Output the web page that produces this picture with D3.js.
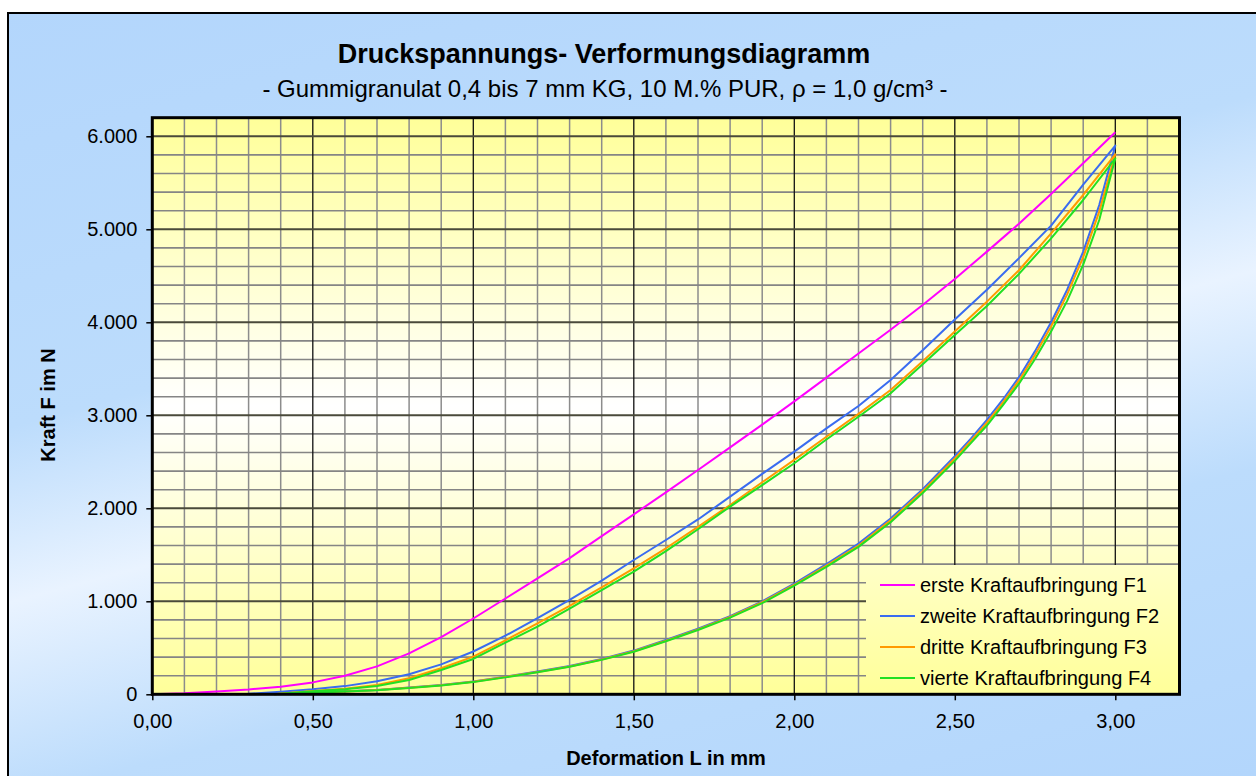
<!DOCTYPE html>
<html><head><meta charset="utf-8">
<script src="https://cdn.jsdelivr.net/npm/d3@7"></script>
<style>
body{margin:0;background:#fff}
svg{display:block}
text{font-family:Arial,"Liberation Sans",sans-serif;fill:#000}
</style>
</head><body>
<svg id="chart" width="1256" height="776"></svg>
<script>
// ---------- data ----------
const titleText = "Druckspannungs- Verformungsdiagramm";
const subtitleText = "- Gummigranulat 0,4 bis 7 mm KG, 10 M.% PUR, \u03C1 = 1,0 g/cm\u00B3 -";
const xAxisTitle = "Deformation L in mm";
const yAxisTitle = "Kraft F im N";
const xTickValues = [0, 0.5, 1.0, 1.5, 2.0, 2.5, 3.0];
const yTickValues = [0, 1000, 2000, 3000, 4000, 5000, 6000];
const seriesNames = ["erste Kraftaufbringung F1", "zweite Kraftaufbringung F2",
                     "dritte Kraftaufbringung F3", "vierte Kraftaufbringung F4"];

// [Deformation mm, Kraft N]
const f1Load = [[0,0],[0.1,10],[0.2,30],[0.3,52],[0.4,82],[0.5,128],[0.6,200],[0.7,300],[0.8,440],[0.9,615],
  [1.0,815],[1.1,1030],[1.2,1247],[1.3,1465],[1.4,1700],[1.5,1935],[1.6,2172],[1.7,2412],[1.8,2655],[1.9,2900],
  [2.0,3150],[2.1,3405],[2.2,3665],[2.3,3920],[2.4,4186],[2.5,4466],[2.6,4760],[2.7,5060],[2.8,5380],[2.9,5710],[3.0,6043]];

const f2Load = [[0.26,0],[0.3,5],[0.4,28],[0.5,54],[0.6,88],[0.7,140],[0.8,215],[0.9,322],[1.0,460],[1.1,630],
  [1.2,820],[1.3,1015],[1.4,1222],[1.5,1444],[1.6,1659],[1.7,1880],[1.8,2125],[1.9,2370],[2.0,2609],[2.1,2860],
  [2.2,3100],[2.3,3380],[2.4,3700],[2.5,4030],[2.6,4350],[2.7,4690],[2.8,5040],[2.9,5480],[3.0,5900]];
const f2Unload = [[3.0,5900],[2.95,5260],[2.9,4760],[2.85,4350],[2.8,4000],[2.75,3690],[2.7,3410],[2.65,3170],
  [2.6,2950],[2.55,2750],[2.5,2560],[2.4,2205],[2.3,1890],[2.2,1620],[2.1,1400],[2.0,1190],[1.9,1000],[1.8,840],
  [1.7,705],[1.6,584],[1.5,470],[1.4,380],[1.3,305],[1.2,245],[1.1,190],[1.0,138],[0.9,100],[0.8,72],[0.7,47],
  [0.6,32],[0.5,21],[0.4,8],[0.3,0]];

const f3Load = [[0.38,0],[0.4,8],[0.5,36],[0.6,60],[0.7,100],[0.8,172],[0.9,280],[1.0,405],[1.1,580],[1.2,763],
  [1.3,950],[1.4,1150],[1.5,1355],[1.6,1570],[1.7,1800],[1.8,2036],[1.9,2280],[2.0,2520],[2.1,2770],[2.2,3015],
  [2.3,3272],[2.4,3580],[2.5,3900],[2.6,4222],[2.7,4560],[2.8,4957],[2.9,5369],[3.0,5806]];
const f3Unload = [[3.0,5806],[2.95,5190],[2.9,4700],[2.85,4300],[2.8,3955],[2.75,3650],[2.7,3375],[2.65,3140],
  [2.6,2920],[2.55,2725],[2.5,2535],[2.4,2185],[2.3,1870],[2.2,1600],[2.1,1385],[2.0,1178],[1.9,990],[1.8,832],
  [1.7,698],[1.6,576],[1.5,463],[1.4,375],[1.3,300],[1.2,240],[1.1,186],[1.0,134],[0.9,97],[0.8,70],[0.7,45],
  [0.6,30],[0.5,19],[0.4,6],[0.38,0]];

const f4Load = [[0.38,0],[0.4,6],[0.5,33],[0.6,55],[0.7,90],[0.8,154],[0.9,262],[1.0,380],[1.1,555],[1.2,728],
  [1.3,920],[1.4,1120],[1.5,1319],[1.6,1540],[1.7,1775],[1.8,2018],[1.9,2250],[2.0,2484],[2.1,2740],[2.2,2985],
  [2.3,3237],[2.4,3550],[2.5,3864],[2.6,4175],[2.7,4520],[2.8,4903],[2.9,5315],[3.0,5763]];
const f4Unload = [[3.0,5763],[2.95,5100],[2.9,4620],[2.85,4230],[2.8,3900],[2.75,3605],[2.7,3340],[2.65,3110],
  [2.6,2890],[2.55,2700],[2.5,2510],[2.4,2165],[2.3,1850],[2.2,1585],[2.1,1370],[2.0,1168],[1.9,980],[1.8,825],
  [1.7,692],[1.6,570],[1.5,458],[1.4,370],[1.3,296],[1.2,236],[1.1,182],[1.0,131],[0.9,95],[0.8,68],[0.7,44],
  [0.6,29],[0.5,18],[0.4,5],[0.38,0]];

const seriesData = [f1Load, f2Load.concat(f2Unload), f3Load.concat(f3Unload), f4Load.concat(f4Unload)];
const seriesColors = ["#ff00ff", "#3a6cf0", "#ff9a00", "#22e022"];

// ---------- layout ----------
const W = 1256, H = 776;
const plot = {left: 152.3, right: 1179.5, top: 117.7, bottom: 694.3};
const svg = d3.select("#chart");
const defs = svg.append("defs");

const bg = defs.append("linearGradient").attr("id", "bgGrad")
  .attr("gradientUnits", "userSpaceOnUse")
  .attr("x1", 513).attr("y1", -124).attr("x2", 786).attr("y2", 900);
bg.append("stop").attr("offset", 0).attr("stop-color", "#b3d6fc");
bg.append("stop").attr("offset", 0.38).attr("stop-color", "#bcdcfc");
bg.append("stop").attr("offset", 0.54).attr("stop-color", "#e9f3ff");
bg.append("stop").attr("offset", 0.72).attr("stop-color", "#bcdcfc");
bg.append("stop").attr("offset", 1).attr("stop-color", "#b3d6fc");

const pg = defs.append("linearGradient").attr("id", "plotGrad")
  .attr("gradientUnits", "userSpaceOnUse")
  .attr("x1", 0).attr("y1", plot.top).attr("x2", 0).attr("y2", plot.bottom);
pg.append("stop").attr("offset", 0).attr("stop-color", "#ffff99");
pg.append("stop").attr("offset", 0.5).attr("stop-color", "#ffffff");
pg.append("stop").attr("offset", 1).attr("stop-color", "#ffff99");

// chart area
svg.append("rect").attr("x", 8).attr("y", 13).attr("width", W + 10).attr("height", H + 10)
  .attr("fill", "url(#bgGrad)").attr("stroke", "#000").attr("stroke-width", 2);

const x = d3.scaleLinear().domain([0, 3.2]).range([plot.left, plot.right]);
const y = d3.scaleLinear().domain([0, 6200]).range([plot.bottom, plot.top]);

svg.append("rect").attr("x", plot.left).attr("y", plot.top)
  .attr("width", plot.right - plot.left).attr("height", plot.bottom - plot.top)
  .attr("fill", "url(#plotGrad)");

// grid
const eps = 1e-6;
const minorX = d3.range(1, 32).map(i => i / 10).filter(v => Math.abs(v * 2 - Math.round(v * 2)) > eps);
const majorX = d3.range(1, 7).map(i => i / 2);
const minorY = d3.range(200, 6200, 200).filter(v => v % 1000 !== 0);
const majorY = d3.range(1000, 6001, 1000);
const g = svg.append("g");
g.selectAll(".mx").data(minorX).join("line")
  .attr("x1", d => x(d)).attr("x2", d => x(d)).attr("y1", plot.top).attr("y2", plot.bottom)
  .attr("stroke", "#8c8c8c").attr("stroke-width", 1.5);
g.selectAll(".my").data(minorY).join("line")
  .attr("y1", d => y(d)).attr("y2", d => y(d)).attr("x1", plot.left).attr("x2", plot.right)
  .attr("stroke", "#858585").attr("stroke-width", 1.6);
g.selectAll(".Mx").data(majorX).join("line")
  .attr("x1", d => x(d)).attr("x2", d => x(d)).attr("y1", plot.top).attr("y2", plot.bottom)
  .attr("stroke", "#111").attr("stroke-width", 1.3);
g.selectAll(".My").data(majorY).join("line")
  .attr("y1", d => y(d)).attr("y2", d => y(d)).attr("x1", plot.left).attr("x2", plot.right)
  .attr("stroke", "#4a4a3a").attr("stroke-width", 2);

// legend background (covers grid)
const legend = {x: 866, y: 565, rowH: 31};
svg.append("rect").attr("x", legend.x).attr("y", legend.y)
  .attr("width", plot.right - legend.x).attr("height", plot.bottom - legend.y)
  .attr("fill", "url(#plotGrad)");

// series
const line = d3.line().x(d => x(d[0])).y(d => y(d[1]));
svg.append("g").selectAll("path").data(seriesData).join("path")
  .attr("d", d => line(d)).attr("fill", "none")
  .attr("stroke", (d, i) => seriesColors[i]).attr("stroke-width", 2)
  .attr("stroke-linejoin", "round");

// plot border
svg.append("rect").attr("x", plot.left).attr("y", plot.top)
  .attr("width", plot.right - plot.left).attr("height", plot.bottom - plot.top)
  .attr("fill", "none").attr("stroke", "#000").attr("stroke-width", 3);

// axes
const loc = d3.formatLocale({decimal: ",", thousands: ".", grouping: [3], currency: ["", "\u20AC"]});
const fx = loc.format(".2f");
const fy = loc.format(",.0f");
const xAxis = svg.append("g").attr("transform", `translate(0,${plot.bottom})`)
  .call(d3.axisBottom(x).tickValues(xTickValues).tickFormat(fx).tickSize(6).tickPadding(14));
const yAxis = svg.append("g").attr("transform", `translate(${plot.left},0)`)
  .call(d3.axisLeft(y).tickValues(yTickValues).tickFormat(fy).tickSize(6).tickPadding(9));
[xAxis, yAxis].forEach(a => {
  a.select(".domain").remove();
  a.selectAll(".tick line").attr("stroke", "#000").attr("stroke-width", 1.5);
  a.selectAll(".tick text").attr("font-size", 20).attr("font-family", "Arial, 'Liberation Sans', sans-serif").attr("fill", "#000");
});

// titles
svg.append("text").attr("x", 604).attr("y", 63).attr("text-anchor", "middle")
  .attr("font-size", 27).attr("font-weight", "bold").text(titleText);
svg.append("text").attr("x", 605).attr("y", 96.5).attr("text-anchor", "middle")
  .attr("font-size", 24).text(subtitleText);
svg.append("text").attr("x", 666).attr("y", 765).attr("text-anchor", "middle")
  .attr("font-size", 20).attr("font-weight", "bold").text(xAxisTitle);
svg.append("text").attr("transform", "translate(55,405) rotate(-90)").attr("text-anchor", "middle")
  .attr("font-size", 20).attr("font-weight", "bold").text(yAxisTitle);

// legend entries
const lg = svg.append("g").selectAll("g").data(seriesNames).join("g")
  .attr("transform", (d, i) => `translate(${legend.x},${legend.y + 20 + i * legend.rowH})`);
lg.append("line").attr("x1", 14).attr("x2", 49).attr("y1", 0).attr("y2", 0)
  .attr("stroke", (d, i) => seriesColors[i]).attr("stroke-width", 2);
lg.append("text").attr("x", 54).attr("y", 7).attr("font-size", 20).text(d => d);
</script>
</body></html>
